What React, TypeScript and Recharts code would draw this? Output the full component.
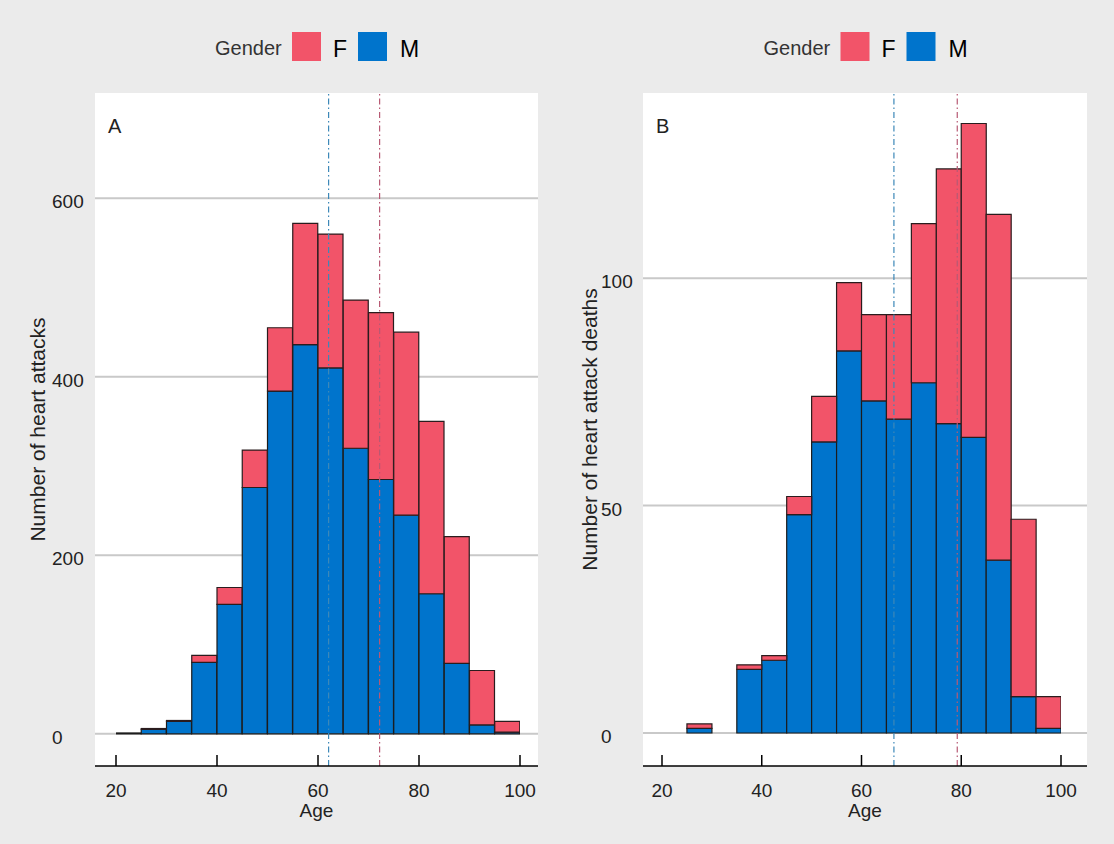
import React from "react";
import {
  BarChart,
  Bar,
  XAxis,
  YAxis,
  CartesianGrid,
  ReferenceLine,
  Label,
} from "recharts";

// 5-year age bins, 20 to 100 (bin midpoints)
const binMids = [
  22.5, 27.5, 32.5, 37.5, 42.5, 47.5, 52.5, 57.5,
  62.5, 67.5, 72.5, 77.5, 82.5, 87.5, 92.5, 97.5,
];

// panel A: heart attacks
const attacksMale = [1, 5, 14, 80, 145, 276, 384, 436, 410, 320, 285, 245, 157, 79, 10, 2];
const attacksFemale = [0, 1, 1, 8, 19, 42, 71, 136, 150, 166, 187, 205, 193, 142, 61, 12];

// panel B: heart attack deaths
const deathsMale = [0, 1, 0, 14, 16, 48, 64, 84, 73, 69, 77, 68, 65, 38, 8, 1];
const deathsFemale = [0, 1, 0, 1, 1, 4, 10, 15, 19, 23, 35, 56, 69, 76, 39, 7];

// mean age lines
const attacksMeanMale = 62.1;
const attacksMeanFemale = 72.2;
const deathsMeanMale = 66.5;
const deathsMeanFemale = 79.2;

const ageTicks = [20, 40, 60, 80, 100];
const attackTicks = [0, 200, 400, 600];
const deathTicks = [0, 50, 100];

const RED = "#f25469";
const BLUE = "#0074cc";
const FONT = '"Liberation Sans", Arial, sans-serif';

const attacksData = binMids.map((age, i) => ({ age, M: attacksMale[i], F: attacksFemale[i] }));
const deathsData = binMids.map((age, i) => ({ age, M: deathsMale[i], F: deathsFemale[i] }));

const AgeTick = (props: any) => {
  const { x, y, payload } = props;
  return (
    <g>
      <line x1={x} x2={x} y1={y - 11} y2={y} stroke="#000" strokeWidth={1.5} />
      <text x={x} y={y + 31} textAnchor="middle" fontSize={19} fill="#222" fontFamily={FONT}>
        {payload.value}
      </text>
    </g>
  );
};

const countTick = (left: number) => (props: any) => {
  const { y, payload } = props;
  return (
    <text x={left} y={y + 10} textAnchor="start" fontSize={19} fill="#222" fontFamily={FONT}>
      {payload.value}
    </text>
  );
};

interface PanelProps {
  left: number;
  data: { age: number; M: number; F: number }[];
  yDomain: [number, number];
  yTicks: number[];
  yLabel: string;
  letter: string;
  meanM: number;
  meanF: number;
  axisWidth: number;
  marginRight: number;
  padLeft: number;
  padRight: number;
  tickX: number;
  labelX: number;
}

const W = 557;
const H = 844;

const Panel: React.FC<PanelProps> = (p) => {
  const plotLeft = p.axisWidth;
  const plotRight = W - p.marginRight;
  const cx = (plotLeft + plotRight) / 2;
  return (
    <div style={{ position: "absolute", left: p.left, top: 0, width: W, height: H }}>
      <BarChart
        width={W}
        height={H}
        data={p.data}
        margin={{ top: 93, right: p.marginRight, bottom: 0, left: 0 }}
        barCategoryGap={0}
        barGap={0}
      >
        <CartesianGrid vertical={false} syncWithTicks fill="#fff" stroke="#c9c9c9" strokeWidth={2} />
        <XAxis
          dataKey="age"
          type="number"
          domain={[20, 100]}
          allowDataOverflow
          ticks={ageTicks}
          padding={{ left: p.padLeft, right: p.padRight }}
          height={78}
          axisLine={{ stroke: "#000", strokeWidth: 1.5 }}
          tickLine={false}
          tickSize={0}
          tickMargin={0}
          tick={<AgeTick />}
        >
          <Label value="Age" position="insideBottom" offset={27} fontSize={19} fill="#222" fontFamily={FONT} />
        </XAxis>
        <YAxis
          domain={p.yDomain}
          allowDataOverflow
          ticks={p.yTicks}
          width={p.axisWidth}
          axisLine={false}
          tickLine={false}
          tick={countTick(p.tickX)}
        >
          <Label
            value={p.yLabel}
            angle={-90}
            position="insideLeft"
            offset={p.labelX}
            fontSize={21}
            fill="#222"
            fontFamily={FONT}
            style={{ textAnchor: "middle" }}
          />
        </YAxis>
        <Bar dataKey="M" stackId="g" fill={BLUE} stroke="#1c1c1c" strokeWidth={1.2} isAnimationActive={false} />
        <Bar dataKey="F" stackId="g" fill={RED} stroke="#2a1c1e" strokeWidth={1.2} isAnimationActive={false} />
        <ReferenceLine x={p.meanM} stroke="#3d88b8" strokeWidth={1.2} strokeDasharray="6 3 1.5 3" />
        <ReferenceLine x={p.meanF} stroke="#b85a74" strokeWidth={1.2} strokeDasharray="6 3 1.5 3" />
      </BarChart>
      <svg
        width={W}
        height={H}
        style={{ position: "absolute", left: 0, top: 0, pointerEvents: "none" }}
        fontFamily={FONT}
      >
        <text x={plotLeft + 13} y={133} fontSize={20} fill="#222">{p.letter}</text>
        <text x={cx - 101.5} y={55} fontSize={20} fill="#333">Gender</text>
        <rect x={cx - 24.5} y={32} width={29} height={29} fill={RED} />
        <text x={cx + 16.5} y={57} fontSize={23} fill="#000">F</text>
        <rect x={cx + 41.5} y={32} width={29} height={29} fill={BLUE} />
        <text x={cx + 83.5} y={57} fontSize={23} fill="#000">M</text>
      </svg>
    </div>
  );
};

export default function App() {
  return (
    <div
      style={{
        position: "fixed",
        left: 0,
        top: 0,
        width: 1114,
        height: 844,
        background: "#ebebeb",
        fontFamily: FONT,
      }}
    >
      <Panel
        left={0}
        data={attacksData}
        yDomain={[-36, 718]}
        yTicks={attackTicks}
        yLabel="Number of heart attacks"
        letter="A"
        meanM={attacksMeanMale}
        meanF={attacksMeanFemale}
        axisWidth={95}
        marginRight={19}
        padLeft={21}
        padRight={18}
        tickX={52}
        labelX={38}
      />
      <Panel
        left={557}
        data={deathsData}
        yDomain={[-7.25, 140.7]}
        yTicks={deathTicks}
        yLabel="Number of heart attack deaths"
        letter="B"
        meanM={deathsMeanMale}
        meanF={deathsMeanFemale}
        axisWidth={86}
        marginRight={27}
        padLeft={19}
        padRight={26}
        tickX={44}
        labelX={33}
      />
    </div>
  );
}
